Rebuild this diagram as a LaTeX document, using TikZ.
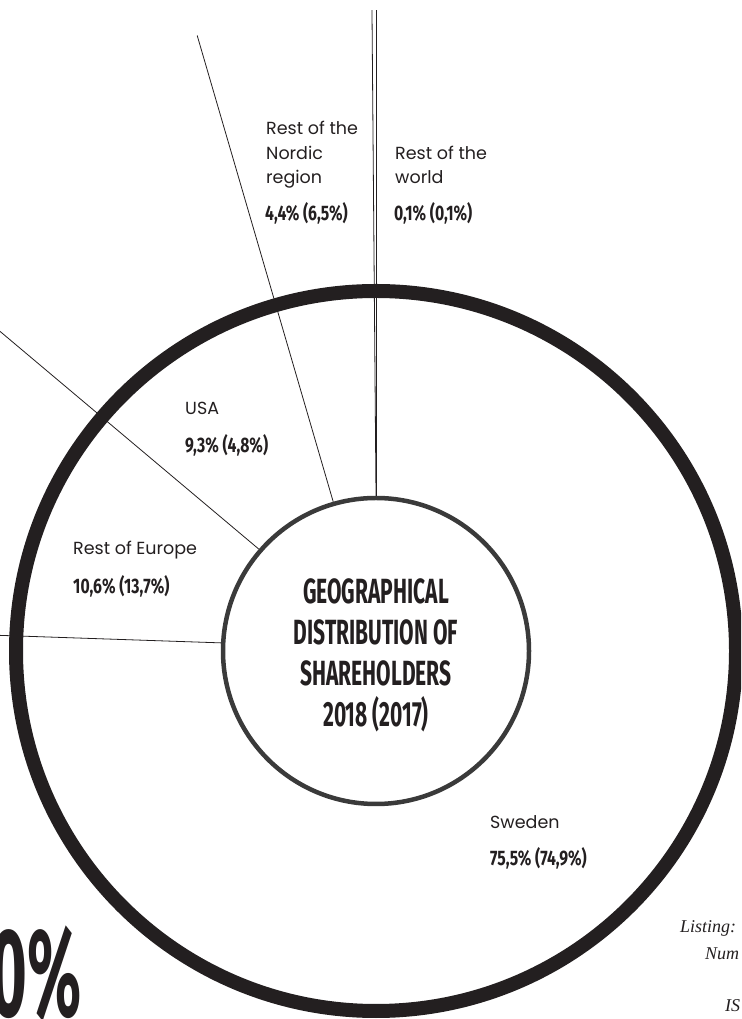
\documentclass[tikz,border=0pt]{standalone}
\usepackage{fontspec}
\setmainfont{Poppins}
\newfontfamily\headfont[FakeStretch=0.6]{Fira Sans}
\newfontfamily\pctfont[FakeStretch=0.75]{Fira Sans}
\newfontfamily\bigfont[FakeStretch=0.5]{Fira Sans}
\newfontfamily\listfont{Liberation Serif}
\definecolor{ink}{HTML}{231F20}
\definecolor{rim}{HTML}{3A3A3A}

\begin{document}
\begin{tikzpicture}[x=1pt,y=1pt,
  lbl/.style={anchor=base west, align=left, inner sep=0, text=ink,
    font=\fontsize{17.5}{24.5}\selectfont},
  pct/.style={anchor=base west, inner sep=0, text=ink,
    font=\pctfont\bfseries\fontsize{21}{21}\selectfont},
  spoke/.style={ink, line width=0.8pt}]
  \clip (0,0) rectangle (741,1019);
  \coordinate (O) at (376,368);

  % Hub circle
  \node[circle, draw=rim, line width=4.5pt, minimum size=306pt, inner sep=0] (hub) at (O) {};

  % Spoke ends
  \foreach \a/\n in {90/w1, 90.36/w2, 106.2/nr, 139.7/us, 177.8/eu}
    \coordinate (\n) at ([shift={(\a:641)}]O);

  % Spokes
  \foreach \a/\n in {90/w1, 90.36/w2, 106.2/nr, 139.7/us, 177.8/eu}
    \draw[spoke] (hub.\a) -- (\n);

  % Outer ring
  \draw[ink, line width=14pt] (O) circle (360);

  % Title
  \node[align=center, inner sep=0, text=ink, anchor=base,
    font=\headfont\bfseries\fontsize{35}{41}\selectfont] (title) at (376,292)
    {GEOGRAPHICAL\\DISTRIBUTION OF\\SHAREHOLDERS\\2018 (2017)};

  % Labels
  \node[lbl] (nordic) at (266,835) {Rest of the\\Nordic\\region};
  \node[pct] (nordicpct) at (265,798) {4,4\% (6,5\%)};
  \node[lbl] (world) at (395,835) {Rest of the\\world};
  \node[pct] (worldpct) at (394,798) {0,1\% (0,1\%)};
  \node[lbl] (usa) at (185,604) {USA};
  \node[pct] (usapct) at (185,566) {9,3\% (4,8\%)};
  \node[lbl] (europe) at (73,464) {Rest of Europe};
  \node[pct] (europepct) at (73,425) {10,6\% (13,7\%)};
  \node[lbl] (sweden) at (490,190) {Sweden};
  \node[pct] (swedenpct) at (490,153) {75,5\% (74,9\%)};

  % Cut-off texts
  \node[anchor=base east, inner sep=0, text=ink,
    font=\bigfont\bfseries\fontsize{126}{126}\selectfont] (big) at (82,2) {0\%};
  \node[anchor=base west, inner sep=0, text=ink,
    font=\listfont\itshape\fontsize{18}{18}\selectfont] (listing) at (680,86) {Listing:};
  \node[anchor=base west, inner sep=0, text=ink,
    font=\listfont\itshape\fontsize{18}{18}\selectfont] (num) at (705,59) {Num};
  \node[anchor=base west, inner sep=0, text=ink,
    font=\listfont\itshape\fontsize{18}{18}\selectfont] (isin) at (725,7) {IS};
\end{tikzpicture}
\end{document}
